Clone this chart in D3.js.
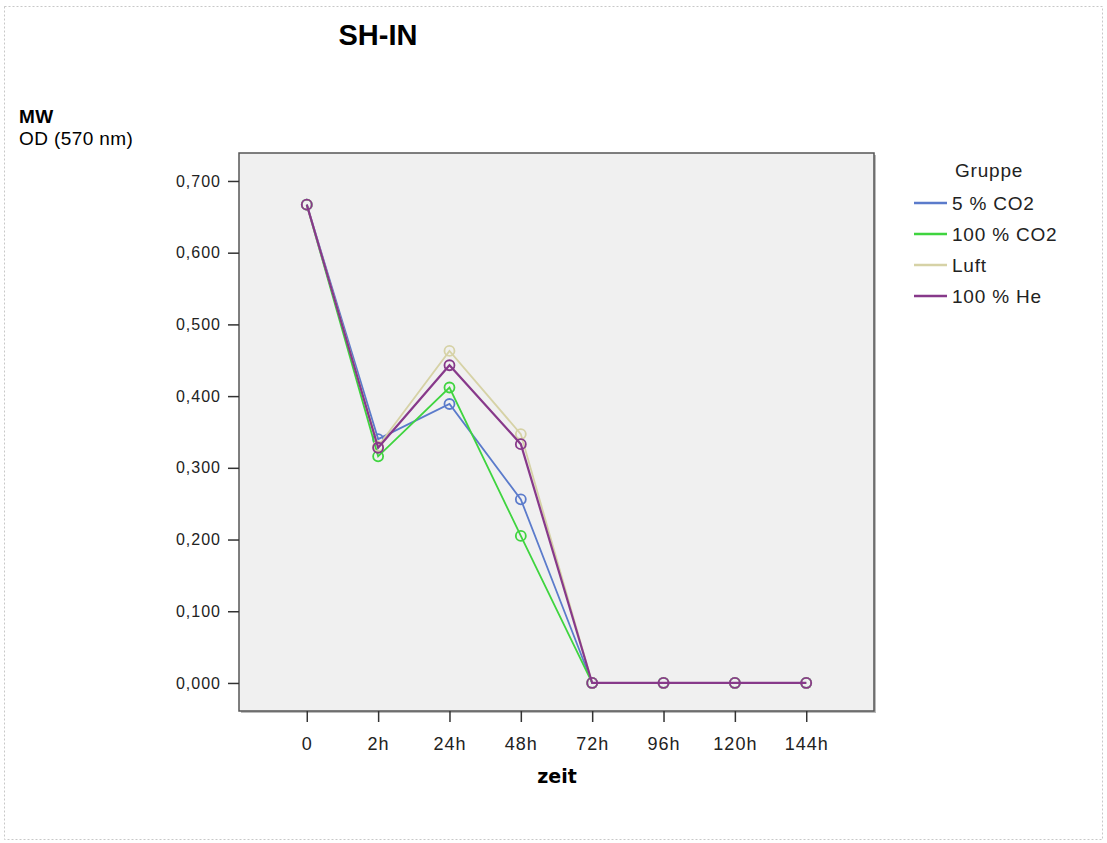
<!DOCTYPE html>
<html>
<head>
<meta charset="utf-8">
<script src="https://cdn.jsdelivr.net/npm/d3@7"></script>
<style>
  body { margin: 0; background: #fff; }
  svg { display: block; font-family: "Liberation Sans", Arial, sans-serif; }
</style>
</head>
<body>
<div id="chart"></div>
<script>
// ===== Données =====
const zeiten = ["0", "2h", "24h", "48h", "72h", "96h", "120h", "144h"];
const gruppen = ["5 % CO2", "100 % CO2", "Luft", "100 % He"];
const farben = ["#5b7bcb", "#3fd43f", "#d6d2a6", "#87398a"];
const co2_5 = [0.667, 0.340, 0.389, 0.256, 0, 0, 0, 0];
const co2_100 = [0.667, 0.316, 0.412, 0.205, 0, 0, 0, 0];
const luft = [0.667, 0.330, 0.463, 0.347, 0, 0, 0, 0];
const helium = [0.667, 0.328, 0.443, 0.333, 0, 0, 0, 0];
const yTicks = [0, 0.1, 0.2, 0.3, 0.4, 0.5, 0.6, 0.7];

const serien = [co2_5, co2_100, luft, helium];

const W = 1107, H = 843;
const plot = { left: 239, right: 874, top: 153, bottom: 711 };
const FONT = "Liberation Sans, Arial, sans-serif";

const svg = d3.select("#chart").append("svg")
  .attr("width", W).attr("height", H);

// Rahmen der Seite
svg.append("rect")
  .attr("x", 4.5).attr("y", 6.5)
  .attr("width", 1098).attr("height", 833)
  .attr("fill", "none")
  .attr("stroke", "#c8c8c8")
  .attr("stroke-dasharray", "2,2");

// Titel
svg.append("text")
  .attr("x", 378).attr("y", 45)
  .attr("text-anchor", "middle")
  .attr("font-size", 29).attr("font-weight", "bold")
  .text("SH-IN");

svg.append("text").attr("x", 19).attr("y", 123)
  .attr("font-size", 19).attr("font-weight", "bold")
  .attr("letter-spacing", 0.5).text("MW");
svg.append("text").attr("x", 19).attr("y", 145)
  .attr("font-size", 19).attr("letter-spacing", 0.4).text("OD (570 nm)");

// ===== Skalen =====
const x = d3.scalePoint()
  .domain(zeiten)
  .range([plot.left, plot.right])
  .padding(0.95);

const y = d3.scaleLinear()
  .domain([-0.0391, 0.739])
  .range([plot.bottom, plot.top]);

// Schatten + Hintergrund
svg.append("rect")
  .attr("x", plot.left + 2).attr("y", plot.top + 2)
  .attr("width", plot.right - plot.left).attr("height", plot.bottom - plot.top)
  .attr("fill", "#bbb");
svg.append("rect")
  .attr("x", plot.left).attr("y", plot.top)
  .attr("width", plot.right - plot.left).attr("height", plot.bottom - plot.top)
  .attr("fill", "#f0f0f0")
  .attr("stroke", "#555").attr("stroke-width", 1.5);

// Achsen
const yAxis = svg.append("g")
  .attr("transform", `translate(${plot.left},0)`)
  .call(d3.axisLeft(y).tickValues(yTicks).tickSize(11).tickPadding(7)
    .tickFormat((d) => d3.format(".3f")(d).replace(".", ",")));
yAxis.select(".domain").remove();
yAxis.selectAll("line").attr("stroke", "#333").attr("stroke-width", 1.5);
yAxis.selectAll("text").attr("font-size", 16).attr("fill", "#222")
  .attr("letter-spacing", 1).attr("font-family", FONT);

const xAxis = svg.append("g")
  .attr("transform", `translate(0,${plot.bottom})`)
  .call(d3.axisBottom(x).tickSize(11).tickPadding(15));
xAxis.select(".domain").remove();
xAxis.selectAll("line").attr("stroke", "#333").attr("stroke-width", 1.5);
xAxis.selectAll("text").attr("font-size", 18).attr("fill", "#222")
  .attr("letter-spacing", 1).attr("font-family", FONT);

svg.append("text")
  .attr("x", 557).attr("y", 783)
  .attr("text-anchor", "middle")
  .attr("font-size", 19).attr("font-weight", "bold")
  .attr("font-family", "DejaVu Sans, sans-serif")
  .text("zeit");

// ===== Linien =====
const line = d3.line()
  .x((d, i) => x(zeiten[i]))
  .y((d) => y(d));

serien.forEach((werte, k) => {
  const g = svg.append("g");
  g.append("path")
    .datum(werte)
    .attr("fill", "none")
    .attr("stroke", farben[k])
    .attr("stroke-width", k === 3 ? 2.2 : 1.8)
    .attr("d", line);
  g.selectAll("circle")
    .data(werte)
    .enter()
    .append("circle")
    .attr("cx", (d, i) => x(zeiten[i]))
    .attr("cy", (d) => y(d))
    .attr("r", 5)
    .attr("fill", "none")
    .attr("stroke", farben[k])
    .attr("stroke-width", 1.8);
});

// ===== Legende =====
const legend = svg.append("g").attr("transform", "translate(914,0)");
legend.append("text")
  .attr("x", 41).attr("y", 177)
  .attr("font-size", 19).attr("fill", "#222")
  .attr("letter-spacing", 0.8)
  .text("Gruppe");

gruppen.forEach((name, k) => {
  const yy = 203 + k * 31;
  legend.append("line")
    .attr("x1", 0).attr("x2", 33)
    .attr("y1", yy).attr("y2", yy)
    .attr("stroke", farben[k]).attr("stroke-width", 2.5);
  legend.append("text")
    .attr("x", 38).attr("y", yy + 7)
    .attr("font-size", 19).attr("fill", "#222")
    .attr("letter-spacing", 0.8)
    .text(name);
});
</script>
</body>
</html>
